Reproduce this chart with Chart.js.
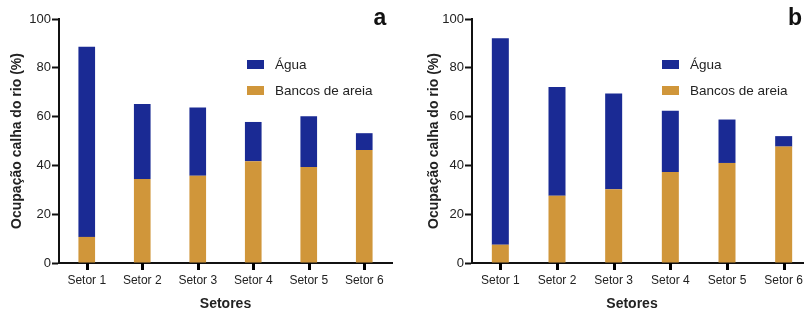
<!DOCTYPE html>
<html>
<head>
<meta charset="utf-8">
<script src="https://cdn.jsdelivr.net/npm/chart.js@4"></script>
<style>
    html, body { margin: 0; padding: 0; background: #fff; }
    #wrap { position: relative; width: 804px; height: 310px; overflow: hidden; }
    #chart-a { position: absolute; left: 0; top: 0; }
    #chart-b { position: absolute; left: 402px; top: 0; }
</style>
</head>
<body>
<div id="wrap">
    <canvas id="chart-a" width="402" height="310"></canvas>
    <canvas id="chart-b" width="410" height="310"></canvas>
</div>
<script>
// Data
const sectors = ['Setor 1', 'Setor 2', 'Setor 3', 'Setor 4', 'Setor 5', 'Setor 6'];
const yTicks = [0, 20, 40, 60, 80, 100];

const sandA = [10.7, 34.4, 35.8, 41.7, 39.3, 46.3];
const waterA = [77.9, 30.8, 27.9, 16.1, 20.8, 6.9];

const sandB = [7.5, 27.6, 30.2, 37.3, 41.0, 47.7];
const waterB = [84.6, 44.5, 39.3, 25.1, 17.8, 4.3];

const blue = '#1a2a94';
const orange = '#d0963a';
const textColor = '#222';
const fontFamily = '"Liberation Sans", Arial, sans-serif';

// Legend, x tick marks, x title and panel letter
const panelPlugin = {
    id: 'panelPlugin',
    afterDraw(chart, args, opts) {
        const c = chart.ctx;
        const area = chart.chartArea;
        const xScale = chart.scales.x;
        c.save();

        // tick marks under each bar
        c.fillStyle = '#000';
        xScale.ticks.forEach((t, i) => {
            const x = Math.round(xScale.getPixelForTick(i));
            c.fillRect(x - 1, Math.round(area.bottom), 3, 7);
        });

        // x axis title
        c.font = 'bold 14px ' + fontFamily;
        c.fillStyle = textColor;
        c.textAlign = 'center';
        c.textBaseline = 'middle';
        c.fillText('Setores', (area.left + opts.titleRight) / 2, 304);

        // legend
        const items = [chart.data.datasets[1], chart.data.datasets[0]];
        c.font = '13.5px ' + fontFamily;
        c.textAlign = 'left';
        items.forEach((ds, i) => {
            const y = 60 + i * 26;
            c.fillStyle = ds.backgroundColor;
            c.fillRect(area.left + opts.legendX, y, 17, 9);
            c.fillStyle = textColor;
            c.fillText(ds.label, area.left + opts.legendX + 28, y + 5);
        });

        // panel letter
        c.font = 'bold 23px ' + fontFamily;
        c.textAlign = 'center';
        c.fillStyle = '#111';
        c.fillText(opts.letter, opts.letterX, 19);
        c.restore();
    }
};

function makeChart(id, sand, water, axisWidth, padRight, titlePad, legendX, letter, letterX, titleRight) {
    const ctx = document.getElementById(id).getContext('2d');
    return new Chart(ctx, {
        type: 'bar',
        data: {
            labels: sectors,
            datasets: [
                { label: 'Bancos de areia', data: sand, backgroundColor: orange,
                  barPercentage: 0.6, categoryPercentage: 0.5 },
                { label: 'Água', data: water, backgroundColor: blue,
                  barPercentage: 0.6, categoryPercentage: 0.5 }
            ]
        },
        options: {
            responsive: false,
            animation: false,
            layout: { padding: { top: 19, right: padRight, left: 0, bottom: 0 } },
            plugins: {
                legend: { display: false },
                tooltip: { enabled: false },
                panelPlugin: { legendX, letter, letterX, titleRight }
            },
            scales: {
                x: {
                    stacked: true,
                    border: { color: '#111', width: 2 },
                    grid: { display: false },
                    ticks: { color: textColor, font: { size: 12, family: fontFamily }, padding: 2 },
                    afterFit(scale) { scale.height = 47; }
                },
                y: {
                    stacked: true,
                    min: 0,
                    max: 100,
                    afterBuildTicks(scale) { scale.ticks = yTicks.map(v => ({ value: v })); },
                    border: { color: '#111', width: 2 },
                    grid: { display: true, drawOnChartArea: false, tickLength: 7, tickColor: '#111', tickWidth: 2 },
                    ticks: { color: textColor, font: { size: 13, family: fontFamily }, padding: 1 },
                    title: { display: true, text: 'Ocupação calha do rio (%)', color: textColor,
                             font: { size: 14, weight: 'bold', family: fontFamily }, padding: { top: titlePad } },
                    afterFit(scale) { scale.width = axisWidth; }
                }
            }
        },
        plugins: [panelPlugin]
    });
}

makeChart('chart-a', sandA, waterA, 59, 10, 9, 188, 'a', 380, 392);
makeChart('chart-b', sandB, waterB, 70, 0, 24, 190, 'b', 393, 390);
</script>
</body>
</html>
